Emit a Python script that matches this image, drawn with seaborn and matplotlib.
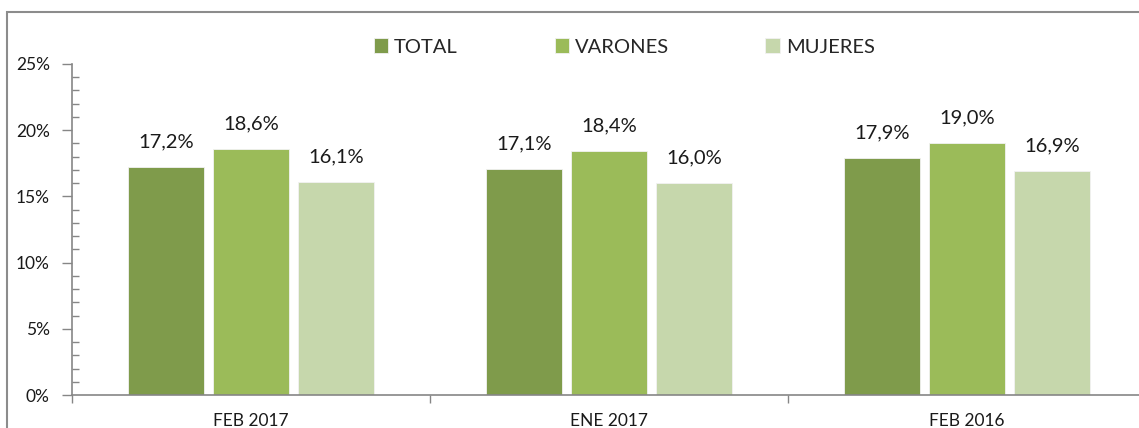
import pandas as pd
import matplotlib.pyplot as plt
import matplotlib.patches as patches
import seaborn as sns
from matplotlib.ticker import MultipleLocator, FuncFormatter, FixedLocator

periodos = ["FEB 2017", "ENE 2017", "FEB 2016"]
series = ["TOTAL", "VARONES", "MUJERES"]
total = [17.2, 17.1, 17.9]
varones = [18.6, 18.4, 19.0]
mujeres = [16.1, 16.0, 16.9]
colores = ["#7F9B4B", "#9BBB59", "#C6D7AC"]

df = pd.DataFrame({
    "periodo": periodos * 3,
    "serie": [s for s in series for _ in periodos],
    "valor": total + varones + mujeres,
})

sns.set_style("white")
plt.rcParams['font.family'] = ['Lato', 'DejaVu Sans']

fig = plt.figure(figsize=(11.39, 4.28), dpi=100)
ax = fig.add_axes([72 / 1139, 1 - 395 / 428, 1074 / 1139, 331 / 428])

sns.barplot(data=df, x="periodo", y="valor", hue="serie", order=periodos,
            hue_order=series, palette=colores, saturation=1, width=0.712, gap=0.105,
            edgecolor="#F2F2F2", linewidth=0.6, legend=True, ax=ax)

# etiquetas de valor
for cont in ax.containers:
    ax.bar_label(cont, labels=[f"{v:.1f}".replace(".", ",") + "%" for v in cont.datavalues],
                 padding=12, fontsize=14.5, color="#1a1a1a")

ax.set_xlim(-0.5, 2.5)
ax.set_ylim(0, 25)
ax.yaxis.set_major_locator(MultipleLocator(5))
ax.yaxis.set_minor_locator(MultipleLocator(1))
ax.yaxis.set_major_formatter(FuncFormatter(lambda v, p: f"{v:.0f}%"))
ax.tick_params(axis="y", which="major", direction="out", length=7, width=1,
               color="#868686", pad=9, labelsize=12.5, labelcolor="#1a1a1a", left=True)
ax.tick_params(axis="y", which="minor", direction="in", length=5, width=1,
               color="#868686", left=True)
ax.xaxis.set_minor_locator(FixedLocator([-0.5, 0.5, 1.5, 2.5]))
ax.tick_params(axis="x", which="major", length=0, pad=13, labelsize=12.5, labelcolor="#1a1a1a")
ax.tick_params(axis="x", which="minor", direction="out", length=6, width=1,
               color="#868686", bottom=True)

for s in ["top", "right"]:
    ax.spines[s].set_visible(False)
for s in ["left", "bottom"]:
    ax.spines[s].set_color("#868686")
    ax.spines[s].set_linewidth(1.2)
ax.set_xlabel("")
ax.set_ylabel("")

handles, labels = ax.get_legend_handles_labels()
ax.get_legend().remove()
fig.legend(handles, labels, loc="center left", bbox_to_anchor=(374 / 1139, 1 - 47 / 428),
           ncol=3, frameon=False, fontsize=14.5, handlelength=0.7, handleheight=0.7,
           handletextpad=0.3, columnspacing=4.8, borderpad=0, borderaxespad=0)

# marco del grafico
fig.patches.append(patches.Rectangle((7 / 1139, -0.1), 1.2, 1 - 12 / 428 + 0.1,
                                     transform=fig.transFigure, fill=False,
                                     edgecolor="#8C8C8C", linewidth=1.5))

fig.savefig("out.png", dpi=100)
